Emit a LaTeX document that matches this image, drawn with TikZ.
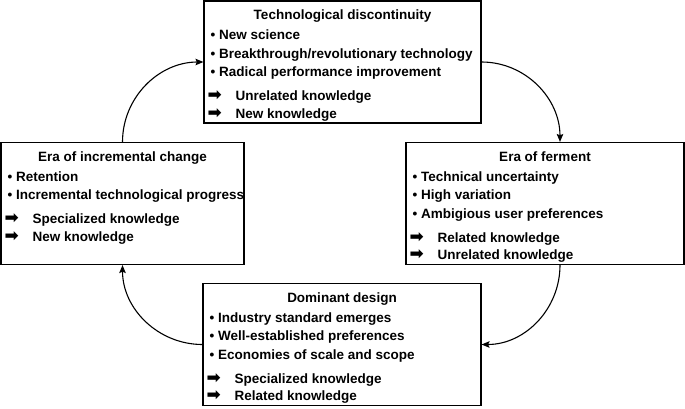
\documentclass[tikz,border=0pt]{standalone}
\usepackage{fontspec}
\setmainfont{Liberation Sans}
\newfontfamily\arrowfont{DejaVu Sans}
\usetikzlibrary{arrows.meta}
\newcommand{\itembul}{\hspace*{3pt}\textbullet\ }
\newcommand{\itemarr}{\makebox[28pt][l]{\arrowfont\fontsize{17}{17}\selectfont ➡}}

\begin{document}
\begin{tikzpicture}
[x=1pt,y=-1pt,
  phaseBox/.style={draw,line width=1.1pt,inner sep=0pt},%
  phaseTitle/.style={anchor=base,inner sep=0pt,font=\bfseries\fontsize{13.5}{18.5}\selectfont},%
  phaseList/.style={anchor=north west,align=left,inner sep=0pt,font=\bfseries\fontsize{13.5}{18.5}\selectfont},%
  cycleLine/.style={-{Stealth[length=8pt,width=6.5pt,inset=1.5pt]},line width=1.1pt}]
\useasboundingbox (0,0) rectangle (685,408);
%% boxes of the four phases
\foreach \nodename/\x/\y/\w in {discont/342.5/62/277, ferment/545/203.5/278, dominant/342/344.5/278, incremental/122.5/203.5/243}
{
  \node (\nodename) at (\x,\y) [phaseBox,minimum width=\w pt,minimum height=122pt] {};
}
%% titles
\node[phaseTitle] (discontTitle) at ([yshift=-19.5pt]discont.north) {Technological discontinuity};
\node[phaseTitle] (fermentTitle) at ([yshift=-19.5pt]ferment.north) {Era of ferment};
\node[phaseTitle] (dominantTitle) at ([yshift=-19.5pt]dominant.north) {Dominant design};
\node[phaseTitle] (incrementalTitle) at ([yshift=-19.5pt]incremental.north) {Era of incremental change};
%% lists
\node[phaseList] (discontList) at ([xshift=4pt,yshift=-29.5pt]discont.north west)
  {\itembul New science\\ \itembul Breakthrough/revolutionary technology\\ \itembul Radical performance improvement\\[5.5pt]
   \itemarr Unrelated knowledge\\[-1pt] \itemarr New knowledge};
\node[phaseList] (fermentList) at ([xshift=4pt,yshift=-29.5pt]ferment.north west)
  {\itembul Technical uncertainty\\ \itembul High variation\\ \itembul Ambigious user preferences\\[5.5pt]
   \itemarr Related knowledge\\[-1pt] \itemarr Unrelated knowledge};
\node[phaseList] (dominantList) at ([xshift=4pt,yshift=-29.5pt]dominant.north west)
  {\itembul Industry standard emerges\\ \itembul Well-established preferences\\ \itembul Economies of scale and scope\\[5.5pt]
   \itemarr Specialized knowledge\\[-1pt] \itemarr Related knowledge};
\node[phaseList] (incrementalList) at ([xshift=4pt,yshift=-29.5pt]incremental.north west)
  {\itembul Retention\\ \itembul Incremental technological progress\\[5.5pt]
   \itemarr Specialized knowledge\\[-1pt] \itemarr New knowledge};
%% cycle arrows
\draw[cycleLine] (incremental.north) to[out=90,in=180] (discont.west);
\draw[cycleLine] (discont.east) to[out=0,in=90] ([xshift=15pt]ferment.north);
\draw[cycleLine] ([xshift=15pt]ferment.south) to[out=-90,in=0] (dominant.east);
\draw[cycleLine] (dominant.west) to[out=180,in=-90] (incremental.south);
\end{tikzpicture}
\end{document}
